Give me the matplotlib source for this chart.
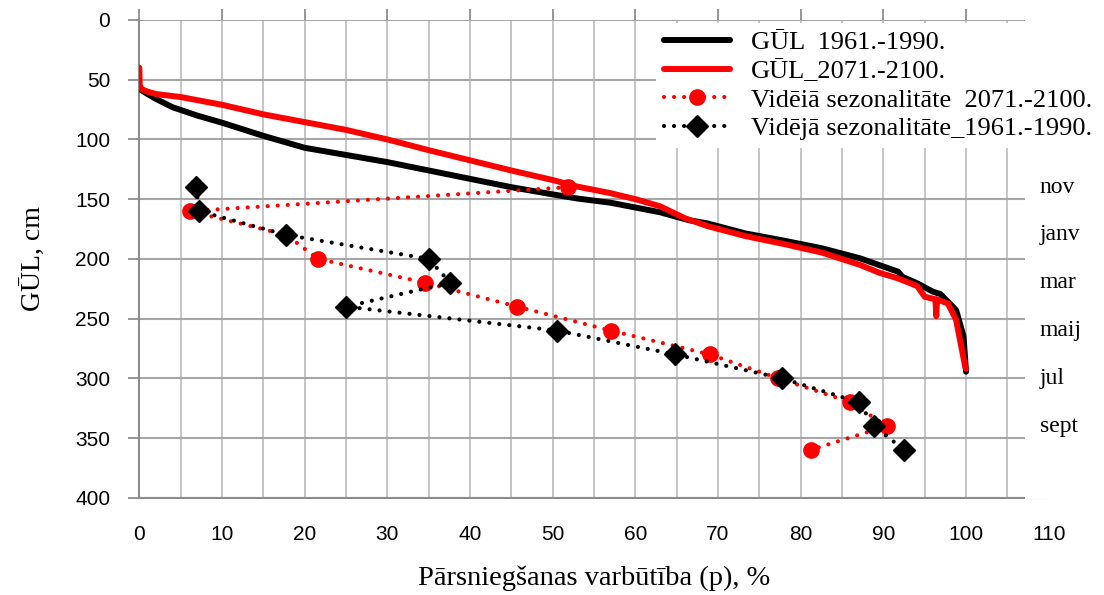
import matplotlib
matplotlib.use("Agg")
import matplotlib.pyplot as plt
from matplotlib.patches import Rectangle
from matplotlib.transforms import blended_transform_factory

# duration curves (exceedance probability %, groundwater level cm)
p_1961 = [0, 0.3, 1, 2, 4, 7, 10, 15, 20, 25, 30, 35, 40, 45, 50, 53, 57, 60, 63, 66.4,
          68.7, 73.3, 78, 82.6, 87.2, 91.8, 92.3, 94.1, 96, 96.9, 98.8, 99.7, 100]
gul_1961 = [56, 59, 62, 66, 73, 80, 86, 97, 107, 113, 119, 126, 133, 140, 146, 149.5, 153, 157, 161, 167.5,
            170.3, 178.7, 184.8, 191.2, 199.6, 210.8, 215, 220.5, 227.5, 229.5, 242.9, 265, 294.5]

p_2071 = [0, 0.05, 0.3, 1, 2, 5, 10, 15, 20, 25, 30, 35, 40, 45, 50, 53, 57, 60, 63, 66,
          68.7, 73.3, 78, 82.6, 87.2, 89.5, 91.8, 94.1, 95, 96.3, 96.4, 96.5, 97.8, 98.8, 99.9, 100]
gul_2071 = [40, 55, 58, 60, 62, 64.5, 71, 79, 85.5, 92, 100, 109, 117.5, 126, 134, 139.5, 145, 150, 156, 166,
            172.5, 180.9, 187.6, 194.8, 205.1, 211.6, 216.4, 222.8, 231.7, 233.9, 248, 234, 237.3, 251, 290.3, 292]

# mean seasonality (nov ... oct)
seas_y = [140, 160, 180, 200, 220, 240, 260, 280, 300, 320, 340, 360]
seas_p_2071 = [51.9, 6.1, 17.8, 21.6, 34.6, 45.7, 57.0, 69.0, 77.3, 86.0, 90.4, 81.2]
seas_p_1961 = [6.9, 7.2, 17.8, 35.0, 37.6, 25.0, 50.5, 64.8, 77.7, 87.0, 88.9, 92.5]

month_labels = ["nov", "janv", "mar", "maij", "jul", "sept"]
month_y = [140, 180, 220, 260, 300, 340]

x_ticks = list(range(0, 111, 10))
y_ticks = list(range(0, 401, 50))

serif = ["Liberation Serif", "DejaVu Serif"]
sans = ["Liberation Sans", "DejaVu Sans"]

fig = plt.figure(figsize=(11.04, 5.95), dpi=100)
ax = fig.add_axes([0.1262, 0.1635, 0.8237, 0.8029])

ax.plot(p_1961, gul_1961, color="black", lw=4.3, solid_capstyle="round", zorder=3,
        label="GŪL  1961.-1990.")
ax.plot(p_2071, gul_2071, color="#ff0000", lw=4.3, solid_capstyle="round", zorder=4,
        label="GŪL_2071.-2100.")
ax.plot(seas_p_2071, seas_y, color="#ff0000", lw=3, ls=(0, (0.01, 2.4)), dash_capstyle="round",
        marker="o", ms=11, zorder=5, label="Vidēiā sezonalitāte  2071.-2100.")
ax.plot(seas_p_1961, seas_y, color="black", lw=3, ls=(0, (0.01, 2.4)), dash_capstyle="round",
        marker="D", ms=11, zorder=6, label="Vidējā sezonalitāte_1961.-1990.")

ax.set_xlim(0, 110)
ax.set_ylim(400, 0)
ax.set_xticks(x_ticks)
ax.set_yticks(y_ticks)
ax.set_xticks(list(range(0, 111, 5)), minor=True)
ax.grid(True, axis="x", which="both", color="#c0c0c0", lw=1.3, zorder=0)
ax.grid(True, axis="y", which="major", color="#a6a6a6", lw=1.5, zorder=0)
ax.set_axisbelow(True)

ax.xaxis.set_ticks_position("top")
ax.tick_params(axis="x", which="major", top=True, bottom=False, labeltop=False, labelbottom=True,
               direction="out", length=8, width=1.3, color="#8c8c8c", pad=12)
ax.tick_params(axis="x", which="minor", top=False, bottom=False)
ax.tick_params(axis="y", direction="out", length=8, width=1.3, color="#8c8c8c", pad=13)
for lab in ax.get_xticklabels() + ax.get_yticklabels():
    lab.set_family(sans)
    lab.set_fontsize(15)

for side in ["top", "right"]:
    ax.spines[side].set_visible(False)
for side in ["left", "bottom"]:
    ax.spines[side].set_color("#8c8c8c")
    ax.spines[side].set_linewidth(1.5)

ax.set_xlabel("Pārsniegšanas varbūtība (p), %", family=serif, fontsize=20.5, labelpad=15)
ax.set_ylabel("GŪL, cm", family=serif, fontsize=20, labelpad=20)

# white text box on the right edge hides the end of the plot area
ax.add_patch(Rectangle((107.1 / 110, -0.003), 0.2, 1.06, transform=ax.transAxes,
                       facecolor="white", edgecolor="none", clip_on=False, zorder=10))
tr = blended_transform_factory(ax.transAxes, ax.transData)
for lab, yv in zip(month_labels, month_y):
    ax.text(0.99, yv, lab, transform=tr, family=serif, fontsize=17, ha="left", va="center",
            clip_on=False, zorder=11)

leg = ax.legend(loc="upper left", bbox_to_anchor=(0.582, 0.984), bbox_transform=fig.transFigure,
                prop={"family": serif, "size": 19}, frameon=True, fancybox=False,
                framealpha=1, edgecolor="none", facecolor="white", handlelength=2.5,
                handletextpad=0.8, labelspacing=0.2, borderpad=0.3, markerscale=1.0)
leg.set_zorder(12)

fig.savefig("out.png", dpi=100, facecolor="white")
